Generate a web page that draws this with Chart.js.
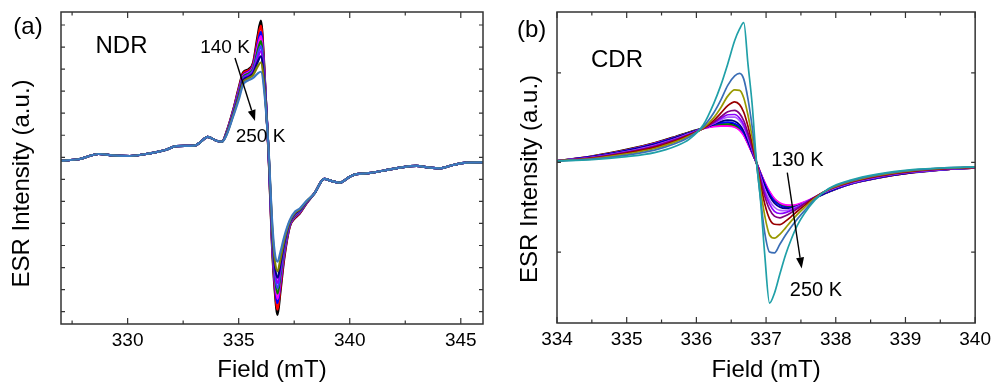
<!DOCTYPE html>
<html>
<head>
<meta charset="utf-8">
<script src="https://cdn.jsdelivr.net/npm/chart.js@4.4.0/dist/chart.umd.min.js"></script>
<style>
  html, body { margin: 0; padding: 0; background: #fff; }
  #wrap { position: relative; width: 996px; height: 387px; overflow: hidden; }
  canvas { position: absolute; top: 0; }
  #ndr { left: 0; }
  #cdr { left: 498px; }
</style>
</head>
<body>
<div id="wrap">
  <canvas id="ndr" width="498" height="387"></canvas>
  <canvas id="cdr" width="498" height="387"></canvas>
</div>
<script>
// ---- panel (a) NDR : field grid (mT) and intensities (a.u.) ----
const fieldA = [327.0, 327.8, 328.7, 329.3, 330.1, 331.0, 331.7, 332.2, 333.0, 333.25, 333.6, 334.0, 334.25,
  334.45, 334.75, 335.0, 335.2, 335.45, 335.65, 335.85, 336.0, 336.15, 336.35, 336.5, 336.62, 336.75, 336.88,
  337.05, 337.3, 337.55, 337.75, 338.05,
  338.4, 338.85, 339.2, 339.55, 340.0, 340.3, 340.75, 341.5, 342.25, 343.0, 343.6, 344.05, 344.65, 345.25, 346.0];
// the wings are the same for every temperature
const ndrLeftWing = [-0.15, -0.09, 0.15, 0.09, 0.06, 0.18, 0.33, 0.51, 0.53, 0.66, 0.93, 0.75, 0.71];
const ndrRightWing = [-1.65, -0.98, -1.08, -1.15, -0.88, -0.76, -0.73, -0.61, -0.47, -0.39, -0.47, -0.5, -0.35, -0.24, -0.23];
// centre part, 334.45 .. 338.05 mT
const ndrBlack   = [1.15, 2.15, 3.15, 3.85, 4.0, 4.3, 5.5, 6.2, 4.2, 0.0, -4.0, -6.0, -7.15, -6.1, -4.6, -3.15, -2.75, -2.55, -2.1];
const ndrRed     = [1.14, 2.12, 3.1, 3.8, 3.95, 4.23, 5.33, 5.97, 4.08, 0.03, -3.88, -5.83, -6.91, -5.92, -4.5, -3.12, -2.72, -2.53, -2.09];
const ndrBlue    = [1.12, 2.08, 3.03, 3.73, 3.89, 4.15, 5.13, 5.69, 3.94, 0.07, -3.74, -5.63, -6.62, -5.7, -4.38, -3.08, -2.68, -2.5, -2.07];
const ndrMagenta = [1.1, 2.06, 2.99, 3.69, 3.85, 4.09, 4.99, 5.5, 3.84, 0.09, -3.64, -5.49, -6.42, -5.56, -4.3, -3.06, -2.66, -2.48, -2.06];
const ndrGreen   = [1.09, 2.03, 2.93, 3.63, 3.8, 4.02, 4.82, 5.27, 3.72, 0.12, -3.52, -5.32, -6.18, -5.38, -4.2, -3.03, -2.63, -2.46, -2.05];
const ndrRoyal   = [1.08, 2.0, 2.88, 3.58, 3.75, 3.95, 4.65, 5.04, 3.6, 0.15, -3.4, -5.15, -5.94, -5.2, -4.1, -3.0, -2.6, -2.44, -2.04];
const ndrViolet  = [1.06, 1.97, 2.82, 3.52, 3.7, 3.88, 4.48, 4.81, 3.48, 0.18, -3.28, -4.98, -5.7, -5.02, -4.0, -2.97, -2.57, -2.41, -2.03];
const ndrNavy    = [1.05, 1.94, 2.77, 3.47, 3.65, 3.81, 4.31, 4.58, 3.36, 0.21, -3.16, -4.81, -5.46, -4.84, -3.9, -2.94, -2.54, -2.39, -2.02];
const ndrOlive   = [1.03, 1.9, 2.7, 3.4, 3.59, 3.73, 4.11, 4.3, 3.22, 0.25, -3.02, -4.61, -5.17, -4.62, -3.78, -2.9, -2.5, -2.36, -2.0];
const ndrSteel   = [1.0, 1.85, 2.6, 3.3, 3.5, 3.6, 3.8, 3.88, 3.0, 0.3, -2.8, -4.3, -4.73, -4.3, -3.6, -2.85, -2.45, -2.32, -1.98];

// ---- panel (b) CDR ----
const fieldB = [334.0, 334.5, 335.0, 335.4, 335.7, 335.9, 336.1, 336.25, 336.35, 336.45, 336.55, 336.62, 336.68,
  336.74, 336.8, 336.86, 336.92, 336.98, 337.05, 337.12, 337.2, 337.28, 337.36, 337.45, 337.55, 337.7, 337.9,
  338.2, 338.6, 339.1, 339.6, 340.0];
const cdrBlack   = [0.18, 0.7, 1.45, 2.2, 2.9, 3.4, 3.85, 4.2, 4.4, 4.45, 4.25, 3.85, 3.2, 2.2, 1.1, 0, -1.2, -2.3, -3.4, -4.2, -4.7, -4.92, -4.96, -4.82, -4.52, -4.0, -3.3, -2.45, -1.75, -1.15, -0.8, -0.62];
const cdrRed     = [0.18, 0.68, 1.4, 2.15, 2.85, 3.35, 3.8, 4.05, 4.15, 4.15, 4.0, 3.65, 3.05, 2.1, 1.05, 0, -1.15, -2.25, -3.3, -4.1, -4.6, -4.8, -4.85, -4.74, -4.45, -3.95, -3.27, -2.43, -1.73, -1.13, -0.79, -0.61];
const cdrGreen   = [0.18, 0.66, 1.38, 2.12, 2.83, 3.35, 3.82, 4.12, 4.26, 4.28, 4.12, 3.75, 3.12, 2.15, 1.08, 0, -1.18, -2.28, -3.35, -4.13, -4.62, -4.83, -4.87, -4.75, -4.46, -3.95, -3.26, -2.42, -1.72, -1.12, -0.78, -0.6];
const cdrMagenta = [0.18, 0.65, 1.36, 2.1, 2.8, 3.32, 3.77, 4.0, 4.06, 4.05, 3.92, 3.58, 3.0, 2.05, 1.03, 0, -1.12, -2.2, -3.25, -4.03, -4.52, -4.73, -4.77, -4.67, -4.4, -3.92, -3.25, -2.42, -1.72, -1.12, -0.78, -0.6];
const cdrBlue    = [0.18, 0.64, 1.35, 2.08, 2.8, 3.32, 3.82, 4.2, 4.42, 4.5, 4.35, 3.97, 3.3, 2.28, 1.15, 0, -1.25, -2.4, -3.52, -4.33, -4.82, -5.02, -5.05, -4.9, -4.56, -4.0, -3.27, -2.42, -1.72, -1.12, -0.78, -0.6];
const cdrNavy    = [0.18, 0.62, 1.3, 2.02, 2.75, 3.3, 3.82, 4.25, 4.55, 4.72, 4.6, 4.2, 3.5, 2.42, 1.22, 0, -1.35, -2.6, -3.75, -4.55, -5.0, -5.13, -5.1, -4.9, -4.52, -3.95, -3.22, -2.38, -1.68, -1.1, -0.76, -0.59];
const cdrLilac   = [0.18, 0.58, 1.22, 1.92, 2.65, 3.22, 3.8, 4.35, 4.75, 5.05, 5.05, 4.65, 3.95, 2.75, 1.4, 0.02, -1.55, -3.0, -4.25, -5.0, -5.35, -5.38, -5.2, -4.92, -4.5, -3.88, -3.12, -2.33, -1.63, -1.07, -0.74, -0.58];
const cdrViolet  = [0.18, 0.55, 1.18, 1.86, 2.6, 3.18, 3.8, 4.4, 4.9, 5.32, 5.35, 4.95, 4.2, 2.95, 1.5, 0.03, -1.7, -3.3, -4.65, -5.45, -5.7, -5.6, -5.35, -5.0, -4.55, -3.87, -3.08, -2.3, -1.6, -1.04, -0.72, -0.57];
const cdrPurple  = [0.18, 0.52, 1.12, 1.78, 2.52, 3.12, 3.8, 4.5, 5.1, 5.65, 5.82, 5.45, 4.65, 3.3, 1.7, 0.05, -1.95, -3.75, -5.25, -6.0, -6.18, -5.95, -5.6, -5.15, -4.62, -3.87, -3.05, -2.27, -1.57, -1.01, -0.7, -0.56];
const cdrDarkRed = [0.18, 0.48, 1.05, 1.68, 2.42, 3.05, 3.8, 4.7, 5.5, 6.35, 6.77, 6.45, 5.6, 4.05, 2.1, 0.08, -2.4, -4.6, -6.3, -6.9, -6.93, -6.55, -6.05, -5.45, -4.82, -3.9, -3.0, -2.2, -1.5, -0.96, -0.66, -0.54];
const cdrOlive   = [0.18, 0.42, 0.95, 1.55, 2.3, 2.95, 3.85, 5.0, 6.1, 7.4, 8.1, 8.05, 7.2, 5.3, 2.85, 0.12, -3.0, -5.9, -8.1, -8.45, -8.0, -7.3, -6.55, -5.8, -5.05, -4.0, -3.0, -2.15, -1.45, -0.91, -0.63, -0.52];
const cdrSteel   = [0.18, 0.36, 0.82, 1.38, 2.12, 2.85, 4.0, 5.55, 6.95, 8.6, 9.65, 9.94, 9.3, 7.1, 4.0, 0.15, -4.0, -7.8, -10.0, -10.1, -9.1, -8.1, -7.2, -6.3, -5.4, -4.1, -2.95, -2.08, -1.38, -0.86, -0.6, -0.5];
const cdrTeal    = [0.18, 0.3, 0.65, 1.1, 1.8, 2.6, 4.2, 6.6, 8.6, 11.0, 13.6, 14.9, 15.6, 11.0, 6.5, 0.3, -4.2, -10.2, -15.7, -14.6, -12.4, -10.3, -8.6, -7.0, -5.7, -4.2, -2.9, -2.0, -1.3, -0.8, -0.58, -0.5];

const FONT = '"Liberation Sans", Arial, sans-serif';
Chart.defaults.font.family = FONT;
Chart.defaults.color = '#000';

const toPoints = (xs, ys) => xs.map((x, i) => ({ x, y: ys[i] }));

// frame, inward ticks, y title, labels and the arrow
const panelDecor = {
  id: 'panelDecor',
  afterDraw(chart, args, o) {
    const { ctx, chartArea: a, scales: { x, y } } = chart;
    ctx.save();
    ctx.strokeStyle = '#333';
    ctx.lineWidth = 1.5;
    ctx.strokeRect(a.left, a.top, a.right - a.left, a.bottom - a.top);

    ctx.lineWidth = 1.2;
    ctx.beginPath();
    const first = Math.ceil(x.min / o.xMinor - 1e-9);
    for (let i = first; i * o.xMinor <= x.max + 1e-9; i++) {
      const v = i * o.xMinor;
      const px = x.getPixelForValue(v);
      const r = v / o.xMajor;
      const len = Math.abs(r - Math.round(r)) < 1e-6 ? 6 : 3.5;
      ctx.moveTo(px, a.bottom); ctx.lineTo(px, a.bottom - len);
      ctx.moveTo(px, a.top); ctx.lineTo(px, a.top + len);
    }
    o.yTicks.forEach(v => {
      const py = y.getPixelForValue(v);
      ctx.moveTo(a.left, py); ctx.lineTo(a.left + 4, py);
      ctx.moveTo(a.right, py); ctx.lineTo(a.right - 4, py);
    });
    ctx.stroke();

    // arrow
    const [x1, y1, x2, y2] = o.arrow;
    const ang = Math.atan2(y2 - y1, x2 - x1);
    const head = 11;
    ctx.strokeStyle = '#000';
    ctx.fillStyle = '#000';
    ctx.lineWidth = 1.4;
    ctx.beginPath();
    ctx.moveTo(x1, y1);
    ctx.lineTo(x2 - head * Math.cos(ang), y2 - head * Math.sin(ang));
    ctx.stroke();
    ctx.beginPath();
    ctx.moveTo(x2, y2);
    ctx.lineTo(x2 - head * Math.cos(ang) + 4 * Math.sin(ang), y2 - head * Math.sin(ang) - 4 * Math.cos(ang));
    ctx.lineTo(x2 - head * Math.cos(ang) - 4 * Math.sin(ang), y2 - head * Math.sin(ang) + 4 * Math.cos(ang));
    ctx.closePath();
    ctx.fill();

    // text
    ctx.textAlign = 'center';
    ctx.textBaseline = 'alphabetic';
    o.notes.forEach(n => {
      ctx.font = n.size + 'px ' + FONT;
      ctx.fillText(n.text, n.x, n.y);
    });
    ctx.translate(o.yTitle[0], o.yTitle[1]);
    ctx.rotate(-Math.PI / 2);
    ctx.font = '24px ' + FONT;
    ctx.fillText('ESR Intensity (a.u.)', 0, 0);
    ctx.restore();
  }
};

function makePanel(canvasId, field, series, cfg) {
  return new Chart(document.getElementById(canvasId), {
    type: 'line',
    data: {
      // first entry is drawn on top
      datasets: series.slice().reverse().map(([ys, color]) => ({
        data: toPoints(field, ys),
        borderColor: color,
        borderWidth: cfg.lineWidth,
        pointRadius: 0,
        cubicInterpolationMode: 'monotone',
        fill: false
      }))
    },
    options: {
      responsive: false,
      animation: false,
      events: [],
      layout: { padding: { top: 12, right: cfg.padRight, left: 0, bottom: 0 } },
      plugins: {
        legend: { display: false },
        tooltip: { enabled: false },
        panelDecor: cfg.decor
      },
      scales: {
        x: {
          type: 'linear',
          min: cfg.xMin,
          max: cfg.xMax,
          grid: { display: false, drawTicks: false },
          border: { display: false },
          ticks: { stepSize: cfg.xStep, includeBounds: false, padding: 5, font: { size: 19 }, color: '#000' },
          title: { display: true, text: 'Field (mT)', font: { size: 24 }, color: '#000', padding: { top: 0, bottom: 2 } },
          afterFit: s => { s.height = cfg.xHeight; }
        },
        y: {
          min: cfg.yMin,
          max: cfg.yMax,
          grid: { display: false, drawTicks: false },
          border: { display: false },
          ticks: { display: false },
          afterFit: s => { s.width = cfg.yWidth; }
        }
      }
    },
    plugins: [panelDecor]
  });
}

const fullA = centre => [...ndrLeftWing, ...centre, ...ndrRightWing];

makePanel('ndr', fieldA, [
  [fullA(ndrBlack), '#000000'],
  [fullA(ndrRed), '#ff0000'],
  [fullA(ndrBlue), '#0000ff'],
  [fullA(ndrMagenta), '#ff00ff'],
  [fullA(ndrGreen), '#008000'],
  [fullA(ndrRoyal), '#3f3fff'],
  [fullA(ndrViolet), '#8b00ff'],
  [fullA(ndrNavy), '#000080'],
  [fullA(ndrOlive), '#808000'],
  [fullA(ndrSteel), '#3b78c0']
], {
  lineWidth: 2.2, padRight: 15, xHeight: 63, yWidth: 61,
  xMin: 327, xMax: 346, xStep: 5, yMin: -7.56, yMax: 6.59,
  decor: {
    xMinor: 2.5, xMajor: 5,
    yTicks: [-7, -6, -5, -4, -3, -2, -1, 0, 1, 2, 3, 4, 5, 6],
    arrow: [235, 58, 255, 121],
    yTitle: [28.5, 183.5],
    notes: [
      { text: '(a)', x: 28, y: 33.5, size: 24 },
      { text: 'NDR', x: 121.5, y: 53, size: 24 },
      { text: '140 K', x: 225, y: 53, size: 19 },
      { text: '250 K', x: 260.5, y: 141.5, size: 19 }
    ]
  }
});

makePanel('cdr', fieldB, [
  [cdrBlack, '#000000'],
  [cdrRed, '#ff0000'],
  [cdrGreen, '#008000'],
  [cdrMagenta, '#ff00ff'],
  [cdrBlue, '#0000ff'],
  [cdrNavy, '#000080'],
  [cdrLilac, '#b060ff'],
  [cdrViolet, '#8b00ff'],
  [cdrPurple, '#800080'],
  [cdrDarkRed, '#990000'],
  [cdrOlive, '#999900'],
  [cdrSteel, '#3a6db5'],
  [cdrTeal, '#20a0a8']
], {
  lineWidth: 1.7, padRight: 17, xHeight: 64, yWidth: 59,
  xMin: 334, xMax: 340, xStep: 1, yMin: -17.92, yMax: 16.79,
  decor: {
    xMinor: 0.5, xMajor: 1,
    yTicks: [-10, 0, 10],
    arrow: [289.3, 172.7, 303.7, 268.5],
    yTitle: [38.5, 179],
    notes: [
      { text: '(b)', x: 33.7, y: 36.7, size: 24 },
      { text: 'CDR', x: 119, y: 66.5, size: 24 },
      { text: '130 K', x: 299.5, y: 165.5, size: 20 },
      { text: '250 K', x: 318, y: 296, size: 20 }
    ]
  }
});
</script>
</body>
</html>
